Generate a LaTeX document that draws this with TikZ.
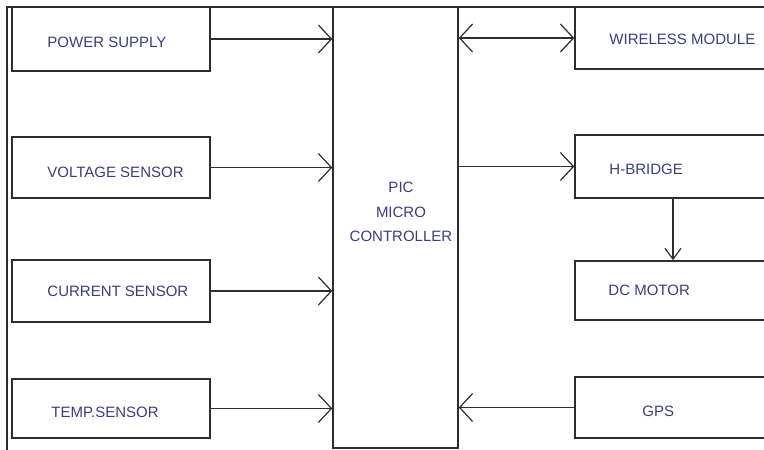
\documentclass[tikz,border=0pt]{standalone}
\usepackage{fontspec}
\setmainfont{Liberation Sans}
\usepackage{xcolor}
\usepackage{tikz}
\usetikzlibrary{arrows.meta}
\definecolor{labelblue}{RGB}{58,62,122}
\definecolor{linegray}{RGB}{45,45,45}

\begin{document}
\begin{tikzpicture}[
    >={Straight Barb[length=13pt,width=28pt]},
    x=1pt, y=-1pt,
    blk/.style={draw=linegray,line width=1.5pt,minimum width=198pt,
                minimum height=62pt,inner sep=0pt},
    lbl/.style={anchor=west,inner sep=0pt,text=labelblue,
                font=\fontsize{15}{18}\selectfont},
    sig/.style={->,draw=linegray,line width=1.2pt},
  ]
  \useasboundingbox (0,0) rectangle (764,450);
  \clip (0,0) rectangle (764,450);
  \fill[white] (0,0) rectangle (764,450);

  % --- outer frame ---
  \draw[linegray,line width=1.5pt] (7,452) |- (766,7);

  % --- inputs ---
  \node[blk,minimum height=64pt] (ps) at (111,39)    {};
  \node[blk,minimum height=61pt] (vs) at (111,167.5) {};
  \node[blk,minimum height=62pt] (cs) at (111,291)   {};
  \node[blk,minimum height=59pt] (ts) at (111,408.5) {};
  \node[lbl] (ps-t) at ([xshift=36pt,yshift=-3pt]ps.west) {POWER SUPPLY};
  \node[lbl] (vs-t) at ([xshift=36pt,yshift=-5pt]vs.west) {VOLTAGE SENSOR};
  \node[lbl] (cs-t) at ([xshift=36pt]cs.west) {CURRENT SENSOR};
  \node[lbl] (ts-t) at ([xshift=40pt,yshift=-4pt]ts.west) {TEMP.SENSOR};

  % --- controller ---
  \node[blk,minimum width=125pt,minimum height=441pt] (pic) at (395.5,227.5) {};
  \node[lbl,anchor=center,align=center,font=\fontsize{15}{24.5}\selectfont]
    (pic-t) at (401,212) {PIC\\MICRO\\CONTROLLER};

  % --- outputs ---
  \node[blk,minimum width=196pt,minimum height=62pt] (wm)  at (673,38)    {};
  \node[blk,minimum width=196pt,minimum height=63pt] (hb)  at (673,166.5) {};
  \node[blk,minimum width=196pt,minimum height=59pt] (dc)  at (673,290.5) {};
  \node[blk,minimum width=196pt,minimum height=61pt] (gps) at (673,407.5) {};
  \node[lbl] (wm-t)  at ([xshift=35pt,yshift=-1pt]wm.west)  {WIRELESS MODULE};
  \node[lbl] (hb-t)  at ([xshift=35pt,yshift=-3pt]hb.west)  {H-BRIDGE};
  \node[lbl] (dc-t)  at ([xshift=34pt]dc.west)              {DC MOTOR};
  \node[lbl] (gps-t) at ([xshift=68pt,yshift=-4pt]gps.west) {GPS};

  % --- signals ---
  \foreach \s in {ps,vs,cs,ts} {
    \draw[sig] (\s.east) -- (\s.east -| pic.west);
  }
  \draw[sig,<->] (pic.east |- wm.west) -- (wm.west);
  \draw[sig] (pic.east |- hb.west) -- (hb.west);
  \draw[sig] (gps.west) -- (gps.west -| pic.east);
  \draw[sig,>={Straight Barb[length=11pt,width=16pt]}] (hb.south) -- (dc.north);

\end{tikzpicture}
\end{document}
